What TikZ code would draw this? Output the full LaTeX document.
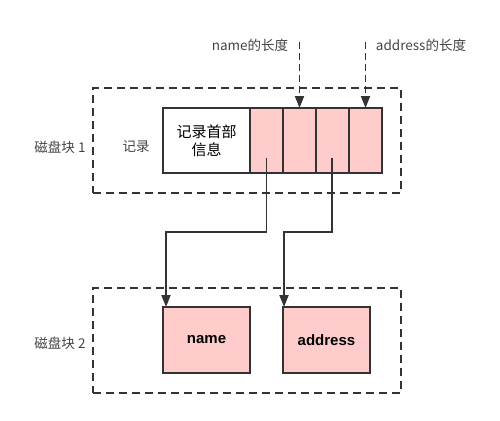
\documentclass[tikz,border=0pt]{standalone}
\usepackage{fontspec}
\setmainfont{Liberation Sans}
\newfontfamily\cjk{Noto Sans CJK SC}
\usepackage{xcolor}
\usetikzlibrary{arrows.meta,positioning}
\definecolor{cellpink}{HTML}{FFCCCC}
\definecolor{linegray}{HTML}{333333}
\definecolor{textgray}{HTML}{444444}

\begin{document}
\begin{tikzpicture}[x=1pt,y=-1pt]
        \def\labelfont{\cjk\fontsize{13.5}{16}\selectfont}
        \def\headfont{\cjk\fontsize{15}{18}\selectfont}
        \def\cellw{33pt}

        \tikzset{
           block/.style={
              draw=linegray,
              line width=1.8pt,
              dash pattern=on 8pt off 5pt,
              minimum width=308pt,
              minimum height=105pt,
              inner sep=0pt
           },
           cell/.style={
              draw=linegray,
              fill=cellpink,
              line width=1.3pt,
              minimum width=\cellw,
              minimum height=65pt,
              inner sep=0pt,
              outer sep=0pt
           },
           field/.style={
              cell,
              minimum width=87pt,
              minimum height=66pt,
              font=\fontsize{15}{17}\selectfont\bfseries
           },
           label/.style={
              text=textgray,
              font=\labelfont,
              inner sep=0pt
           },
           pointer/.style={
              draw=linegray,
              line width=1.8pt,
              -{Triangle[length=12pt,width=9pt]}
           },
           lenpointer/.style={
              pointer,
              dash pattern=on 7pt off 4pt
           }
        }

        \useasboundingbox (0,0) rectangle (500,420);

        % Block 1
        \node[block] (B1) at (247,140.5) {};
        \node[label] (B1text) at (60,147) {磁盘块 1};
        \node[label] (rec) at (136,147) {记录};

        \node[cell, fill=white, minimum width=87pt, align=center, font=\headfont]
              (head) at (206.5,140.5) {记录首部\\信息};
        \node[cell, right=0pt of head] (c1) {};
        \node[cell, right=0pt of c1] (c2) {};
        \node[cell, right=0pt of c2] (c3) {};
        \node[cell, right=0pt of c3] (c4) {};

        % Block 2
        \node[block] (B2) at (247,340.5) {};
        \node[label] (B2text) at (60,343) {磁盘块 2};

        \node[field] (name) at (206.5,340) {name};
        \node[field] (address) at (326.5,340) {address};

        % Length labels
        \node[label] (namelen) at (250,45) {name的长度};
        \node[label] (addrlen) at (421,45) {address的长度};
        \coordinate (namelentop) at (299.5,42);
        \coordinate (addrlentop) at (365.5,42);

        \draw[lenpointer] (namelentop) -- (c2.north);
        \draw[lenpointer] (addrlentop) -- (c4.north);

        % Lines
        \coordinate (s1) at (266.5,158);
        \coordinate (s2) at (332,158);
        \coordinate (n1) at ([xshift=3pt]name.north west);
        \coordinate (n2) at ([xshift=1pt]address.north west);

        \draw[pointer] (s1) -- ++ (0,74) -| (n1);
        \draw[pointer] (s2) -- ++ (0,74) -| (n2);
\end{tikzpicture}
\end{document}
